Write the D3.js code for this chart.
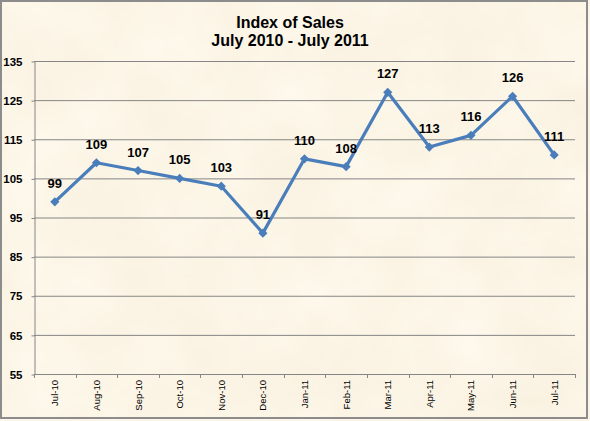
<!DOCTYPE html>
<html lang="en">
<head>
  <meta charset="UTF-8" />
  <title>Index of Sales</title>
  <script src="https://d3js.org/d3.v7.min.js"></script>
  <style>
    body { margin: 0; background: #fff; }
    svg { display: block; }
    .ylab { font-family: "Liberation Sans", Arial, sans-serif; font-size: 11.5px; font-weight: bold; fill: #000; }
    .xlab { font-family: "Liberation Sans", Arial, sans-serif; font-size: 9.5px; fill: #000; }
    .title { font-family: "Liberation Sans", Arial, sans-serif; font-size: 16px; font-weight: bold; fill: #000; }
    .dlab { font-family: "Liberation Sans", Arial, sans-serif; font-size: 13px; font-weight: bold; fill: #000; }
  </style>
</head>
<body>
  <svg id="chart" width="590" height="421"></svg>
  <script>
    // data
    const months = ["Jul-10", "Aug-10", "Sep-10", "Oct-10", "Nov-10", "Dec-10",
                    "Jan-11", "Feb-11", "Mar-11", "Apr-11", "May-11", "Jun-11", "Jul-11"];
    const sales = [99, 109, 107, 105, 103, 91, 110, 108, 127, 113, 116, 126, 111];
    const yTicks = [55, 65, 75, 85, 95, 105, 115, 125, 135];
    const titleLines = ["Index of Sales", "July 2010 - July 2011"];

    const svg = d3.select("#chart");
    const W = 590, H = 421;
    const plot = { left: 34, right: 575, top: 61, bottom: 374 };

    // parchment texture
    const defs = svg.append("defs");
    const f = defs.append("filter").attr("id", "paper")
      .attr("x", 0).attr("y", 0).attr("width", "100%").attr("height", "100%");
    f.append("feTurbulence").attr("type", "fractalNoise")
      .attr("baseFrequency", 0.012).attr("numOctaves", 4).attr("seed", 7);
    f.append("feColorMatrix").attr("type", "matrix")
      .attr("values", "0.06 0 0 0 0.94  0.1 0 0 0 0.865  0.14 0 0 0 0.725  0 0 0 0 1");

    svg.append("rect").attr("width", W).attr("height", H).attr("fill", "#f8edd4");
    svg.append("rect").attr("width", W).attr("height", H).attr("filter", "url(#paper)");
    svg.append("rect").attr("x", 1).attr("y", 1).attr("width", 586).attr("height", 417)
      .attr("fill", "none").attr("stroke", "#8c8c8c").attr("stroke-width", 2);

    const x = d3.scaleBand().domain(months).range([plot.left, plot.right]);
    const y = d3.scaleLinear().domain([55, 135]).range([plot.bottom, plot.top]);

    // horizontal gridlines
    svg.append("g").selectAll("line").data(yTicks.slice(1)).join("line")
      .attr("x1", plot.left).attr("x2", plot.right)
      .attr("y1", d => y(d) + 0.5).attr("y2", d => y(d) + 0.5)
      .attr("stroke", "#868686").attr("stroke-width", 1);

    // y axis
    const yAxis = svg.append("g").attr("transform", `translate(${plot.left + 0.5},0.5)`)
      .call(d3.axisLeft(y).tickValues(yTicks).tickSize(3).tickPadding(9).tickSizeOuter(0));
    yAxis.select(".domain").attr("stroke", "#868686");
    yAxis.selectAll(".tick line").attr("stroke", "#868686");
    yAxis.selectAll(".tick text").attr("class", "ylab").attr("font-family", null).attr("font-size", null);

    // x axis with ticks on category boundaries
    const xg = svg.append("g");
    xg.append("line").attr("x1", plot.left).attr("x2", plot.right)
      .attr("y1", plot.bottom + 0.5).attr("y2", plot.bottom + 0.5).attr("stroke", "#868686");
    const bounds = months.map(m => x(m)).concat([plot.right]);
    xg.selectAll("line.tk").data(bounds).join("line").attr("class", "tk")
      .attr("x1", d => Math.round(d) + 0.5).attr("x2", d => Math.round(d) + 0.5)
      .attr("y1", plot.bottom).attr("y2", plot.bottom + 4).attr("stroke", "#868686");
    xg.selectAll("text").data(months).join("text").attr("class", "xlab")
      .attr("transform", d => `translate(${x(d) + x.bandwidth() / 2 + 3.5},${plot.bottom + 6}) rotate(-90)`)
      .attr("text-anchor", "end")
      .text(d => d);

    // title
    svg.append("g").selectAll("text").data(titleLines).join("text").attr("class", "title")
      .attr("x", 290).attr("y", (d, i) => 28 + i * 17.5)
      .attr("text-anchor", "middle").text(d => d);

    // line + markers
    const cx = (d, i) => x(months[i]) + x.bandwidth() / 2;
    svg.append("path").datum(sales)
      .attr("fill", "none").attr("stroke", "#4a7ebb").attr("stroke-width", 3.2)
      .attr("stroke-linejoin", "round")
      .attr("d", d3.line().x(cx).y(d => y(d)));

    svg.append("g").selectAll("path").data(sales).join("path")
      .attr("d", d3.symbol(d3.symbolSquare, 42))
      .attr("transform", (d, i) => `translate(${cx(d, i)},${y(d)}) rotate(45)`)
      .attr("fill", "#4a7ebb");

    svg.append("g").selectAll("text").data(sales).join("text").attr("class", "dlab")
      .attr("x", cx).attr("y", d => y(d) - 14)
      .attr("text-anchor", "middle").text(d => d);
  </script>
</body>
</html>
